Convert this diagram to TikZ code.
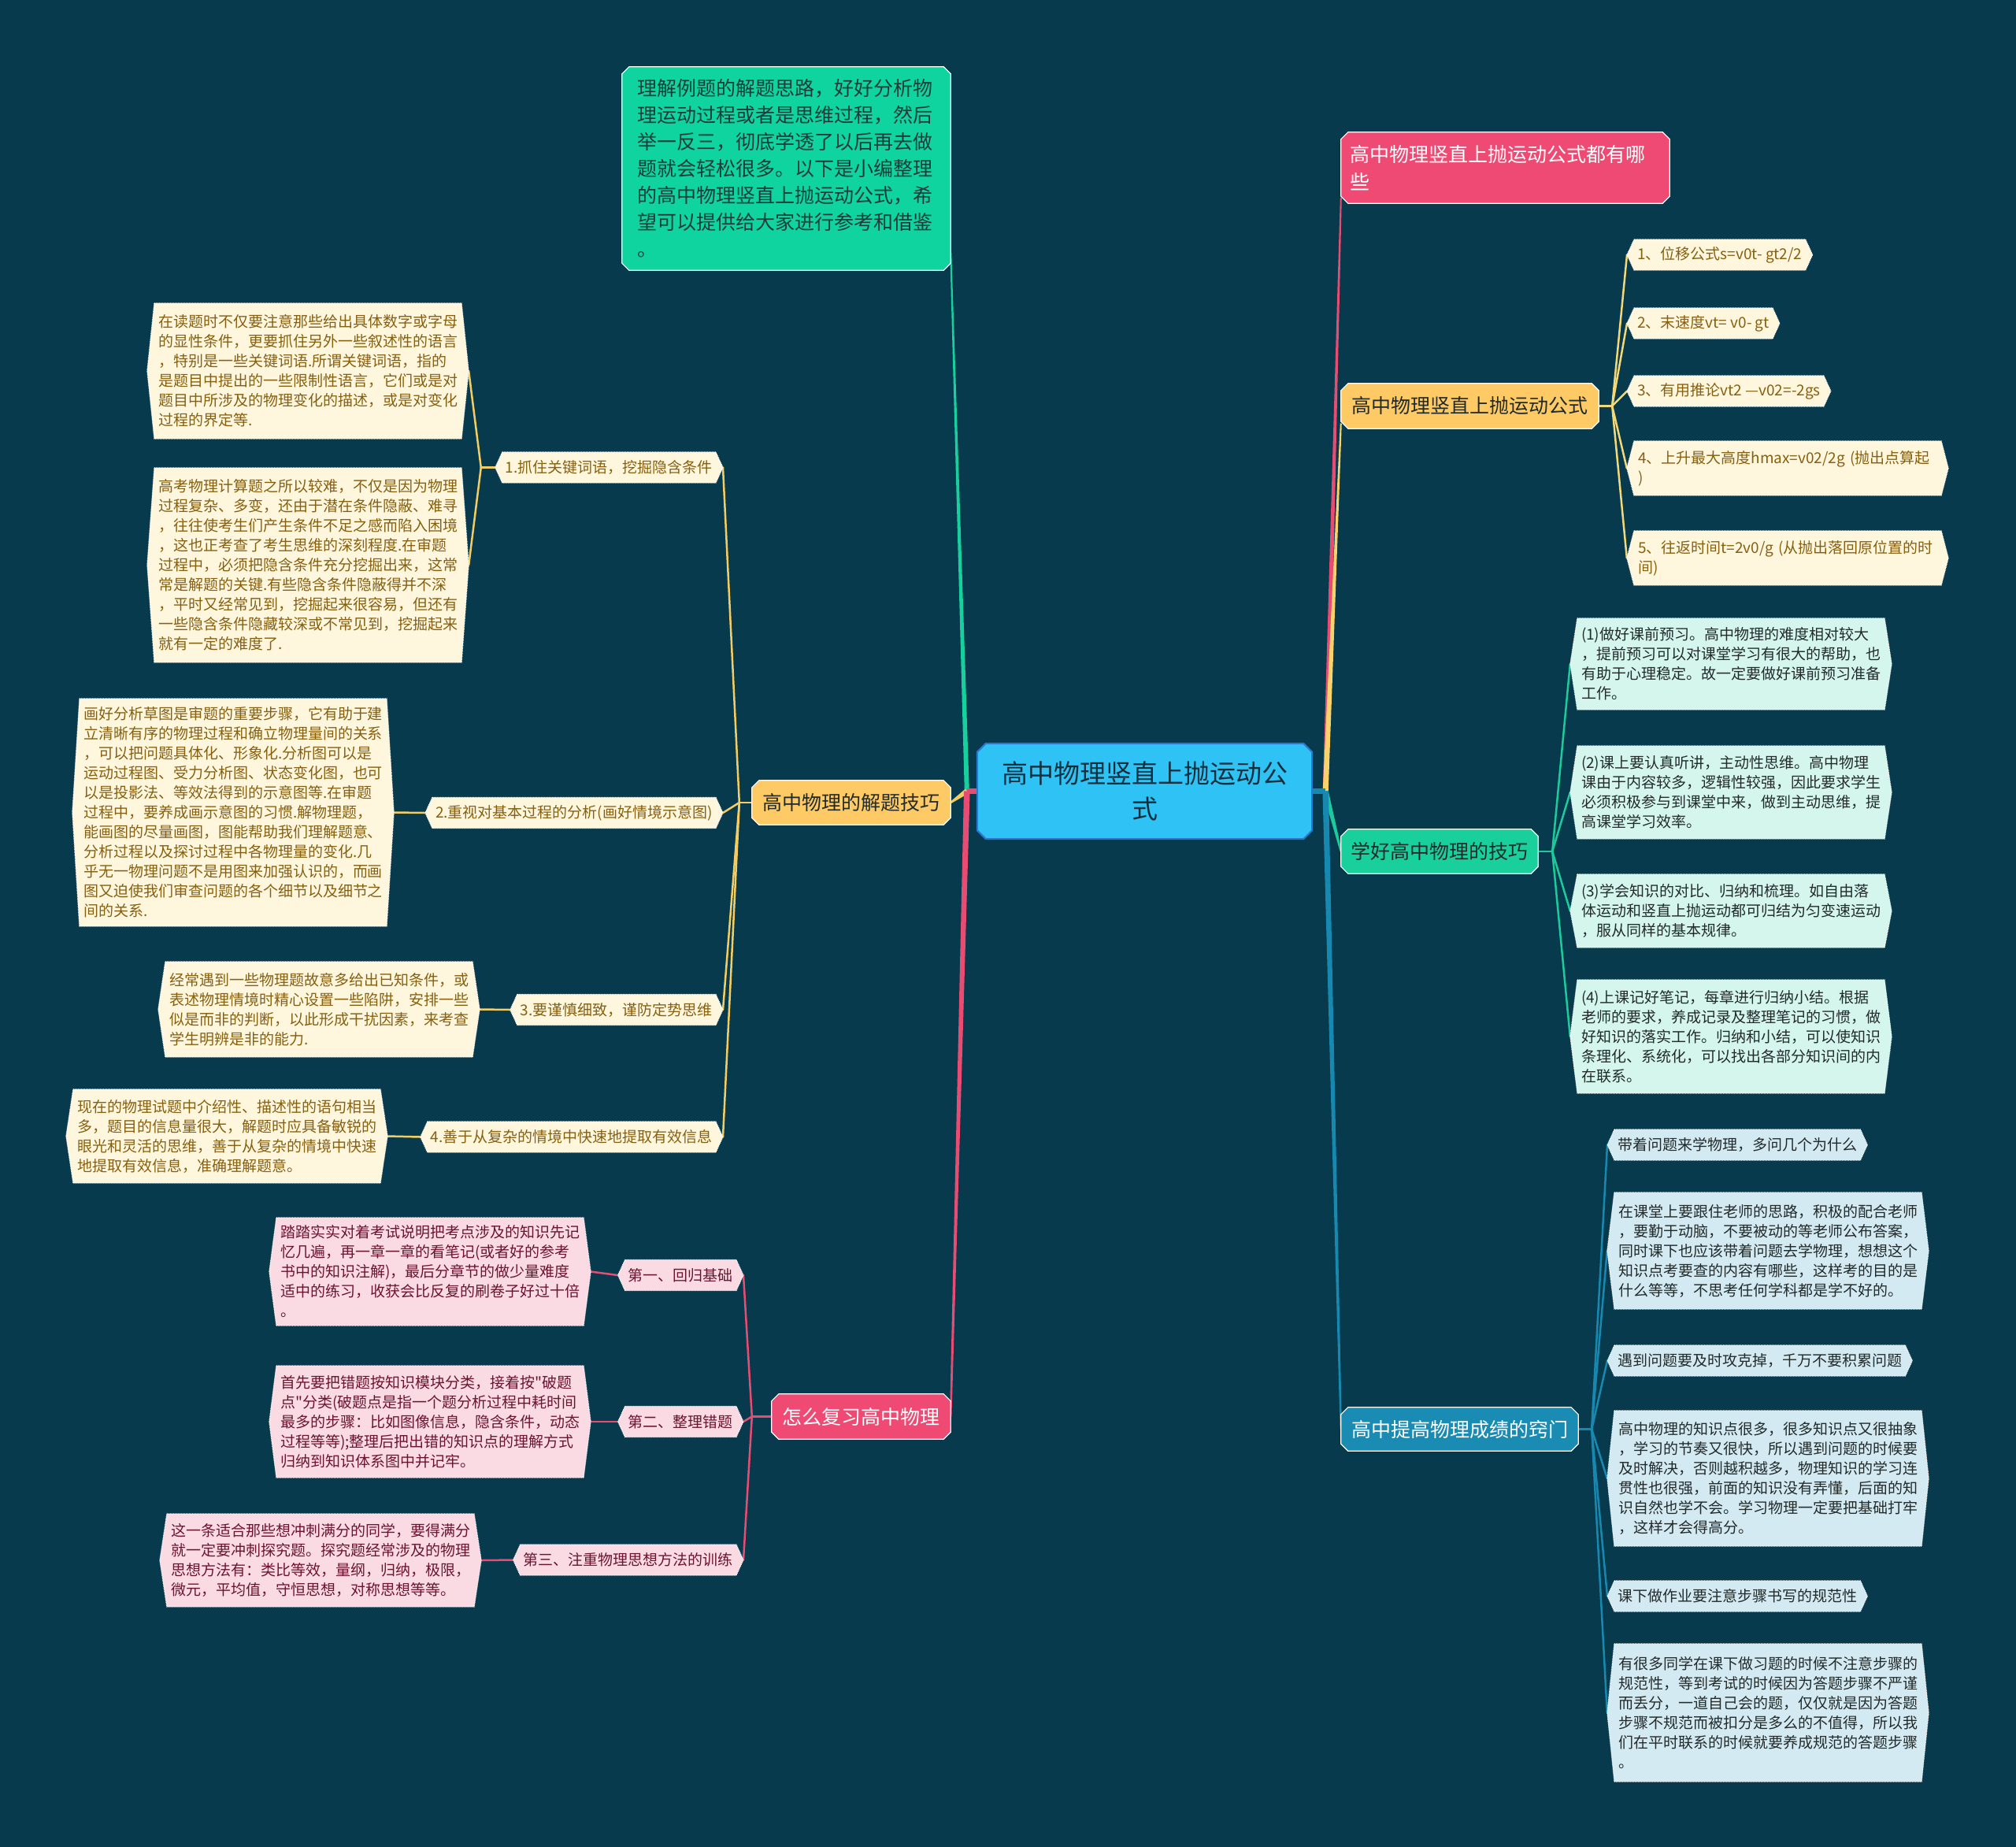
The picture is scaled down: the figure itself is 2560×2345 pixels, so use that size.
\documentclass[tikz,border=0pt]{standalone}
\usepackage{fontspec}
\setmainfont{Noto Sans CJK SC}[Ligatures=TeXOff]
\usetikzlibrary{calc}
\pgfdeclarelayer{bgl}
\pgfdeclarelayer{conn}
\pgfdeclarelayer{shp}
\pgfsetlayers{bgl,conn,shp,main}
\definecolor{bgc}{HTML}{083A4D}
\definecolor{cRoot}{HTML}{2EC3F4}
\definecolor{cRootB}{HTML}{2B78D0}
\definecolor{cRootT}{HTML}{14303F}
\definecolor{cG0}{HTML}{10D49F}
\definecolor{cG0T}{HTML}{1D3B38}
\definecolor{cPinkB}{HTML}{EE4A73}
\definecolor{cYelB}{HTML}{FDCA66}
\definecolor{cGreenB}{HTML}{19D09C}
\definecolor{cBlueB}{HTML}{1A8BB2}
\definecolor{cDark}{HTML}{222A2A}
\definecolor{cCream}{HTML}{FFF6DE}
\definecolor{cMint}{HTML}{D4F6ED}
\definecolor{cLblue}{HTML}{D4EAF2}
\definecolor{cPinkLeaf}{HTML}{FBDBE3}
\definecolor{cBrown}{HTML}{87600F}
\definecolor{cMaroon}{HTML}{6B1430}
\definecolor{cGreenL}{HTML}{16D19E}
\definecolor{cYelL}{HTML}{F3CC62}
\definecolor{cPinkL}{HTML}{E84C73}
\definecolor{cBlueL}{HTML}{1789B0}
\definecolor{cTeal}{HTML}{1CCB9B}
\definecolor{cYelR}{HTML}{F8D26A}
\definecolor{cYelSub}{HTML}{F2D877}
\newcommand\fsz[2]{\fontsize{#1}{#2}\selectfont}
\newcommand\hexbox[3]{\begin{pgfonlayer}{shp}\path[#2] ([xshift=#3]#1.north west) -- ([xshift=-#3]#1.north east) -- (#1.east) -- ([xshift=-#3]#1.south east) -- ([xshift=#3]#1.south west) -- (#1.west) -- cycle;\end{pgfonlayer}}
\newcommand\chamfbox[3]{\begin{pgfonlayer}{shp}\path[#2] ([xshift=#3]#1.north west) -- ([xshift=-#3]#1.north east) -- ([yshift=-#3]#1.north east) -- ([yshift=#3]#1.south east) -- ([xshift=-#3]#1.south east) -- ([xshift=#3]#1.south west) -- ([yshift=#3]#1.south west) -- ([yshift=-#3]#1.north west) -- cycle;\end{pgfonlayer}}
\newcommand\tapline[5]{\fill[#1] ($(#2)!#4!90:(#3)$) -- ($(#3)!#5!-90:(#2)$) -- ($(#3)!#5!90:(#2)$) -- ($(#2)!#4!-90:(#3)$) -- cycle;}
\tikzset{
  base/.style={inner sep=0pt, align=left, draw=none},
  mainbr/.style={base, font=\fsz{25}{30}, align=center},
  bigleaf/.style={base, font=\fsz{19}{25}, text width=380pt, minimum width=408pt},
  smallleaf/.style={base, font=\fsz{19}{25}, inner xsep=13pt, minimum height=39pt},
  creamS/.style={fill=cCream, draw=white, densely dotted, line width=1pt},
  mintS/.style={fill=cMint, draw=white, densely dotted, line width=1pt},
  lblueS/.style={fill=cLblue, draw=white, densely dotted, line width=1pt},
  pinkS/.style={fill=cPinkLeaf, draw=white, densely dotted, line width=1pt},
  brS/.style={draw=white, line width=1.2pt},
  sub/.style={line width=2.5pt, line cap=round, line join=round},
}
\begin{document}
\begin{tikzpicture}[x=1pt,y=-1pt]
\begin{pgfonlayer}{bgl}
\fill[bgc] (0,0) rectangle (2560,2345);
\end{pgfonlayer}
\useasboundingbox (0,0) rectangle (2560,2345);

% root
\node[base, text=cRootT, font=\fsz{33}{45}, align=center, text width=400pt, minimum width=425pt, minimum height=121pt] (root) at (1453.5,1004.5) {高中物理竖直上抛运动公\\式};
\chamfbox{root}{fill=cRoot, draw=cRootB, line width=2pt}{11pt}

% main branches
\node[base, text=cG0T, font=\fsz{25}{34}, text width=378pt, minimum width=417pt, minimum height=258pt] (G0) at (998.5,214) {理解例题的解题思路，好好分析物\\理运动过程或者是思维过程，然后\\举一反三，彻底学透了以后再去做\\题就会轻松很多。以下是小编整理\\的高中物理竖直上抛运动公式，希\\望可以提供给大家进行参考和借鉴\\。};
\chamfbox{G0}{fill=cG0, brS}{9pt}

\node[base, text=white, font=\fsz{25}{35}, text width=395pt, minimum width=417pt, minimum height=90pt] (Rp) at (1911.5,213) {高中物理竖直上抛运动公式都有哪\\些};
\chamfbox{Rp}{fill=cPinkB, brS}{9pt}

\node[mainbr, text=cDark, minimum width=327pt, minimum height=57pt] (Yf) at (1866.5,515.5) {高中物理竖直上抛运动公式};
\chamfbox{Yf}{fill=cYelB, brS}{9pt}

\node[mainbr, text=cDark, minimum width=250pt, minimum height=56pt] (Gx) at (1828,1081) {学好高中物理的技巧};
\chamfbox{Gx}{fill=cGreenB, brS}{9pt}

\node[mainbr, text=white, minimum width=301pt, minimum height=55pt] (Bq) at (1853.5,1814.5) {高中提高物理成绩的窍门};
\chamfbox{Bq}{fill=cBlueB, brS}{9pt}

\node[mainbr, text=cDark, minimum width=252pt, minimum height=56pt] (Yj) at (1081,1019) {高中物理的解题技巧};
\chamfbox{Yj}{fill=cYelB, brS}{9pt}

\node[mainbr, text=white, minimum width=227pt, minimum height=57pt] (Pf) at (1093.5,1798.5) {怎么复习高中物理};
\chamfbox{Pf}{fill=cPinkB, brS}{9pt}

% formula leaves
\node[smallleaf, text=cBrown, anchor=west] (F1) at (2066,323.5) {1、位移公式s=v0t- gt2/2};
\hexbox{F1}{creamS}{9pt}
\node[smallleaf, text=cBrown, anchor=west] (F2) at (2066,410.5) {2、末速度vt= v0- gt};
\hexbox{F2}{creamS}{9pt}
\node[smallleaf, text=cBrown, anchor=west] (F3) at (2066,496.5) {3、有用推论vt2 —v02=-2gs};
\hexbox{F3}{creamS}{9pt}
\node[bigleaf, text=cBrown, minimum height=69pt] (F4) at (2270,594.5) {4、上升最大高度hmax=v02/2g (抛出点算起\\)};
\hexbox{F4}{creamS}{9pt}
\node[bigleaf, text=cBrown, minimum height=69pt] (F5) at (2270,708.5) {5、往返时间t=2v0/g (从抛出落回原位置的时\\间)};
\hexbox{F5}{creamS}{9pt}

% mint leaves
\node[bigleaf, text=cDark, minimum height=116pt] (M1) at (2198,843) {(1)做好课前预习。高中物理的难度相对较大\\，提前预习可以对课堂学习有很大的帮助，也\\有助于心理稳定。故一定要做好课前预习准备\\工作。};
\hexbox{M1}{mintS}{9pt}
\node[bigleaf, text=cDark, minimum height=118pt] (M2) at (2198,1006) {(2)课上要认真听讲，主动性思维。高中物理\\课由于内容较多，逻辑性较强，因此要求学生\\必须积极参与到课堂中来，做到主动思维，提\\高课堂学习效率。};
\hexbox{M2}{mintS}{9pt}
\node[bigleaf, text=cDark, minimum height=93pt] (M3) at (2198,1156.5) {(3)学会知识的对比、归纳和梳理。如自由落\\体运动和竖直上抛运动都可归结为匀变速运动\\，服从同样的基本规律。};
\hexbox{M3}{mintS}{9pt}
\node[bigleaf, text=cDark, minimum height=144pt] (M4) at (2198,1316) {(4)上课记好笔记，每章进行归纳小结。根据\\老师的要求，养成记录及整理笔记的习惯，做\\好知识的落实工作。归纳和小结，可以使知识\\条理化、系统化，可以找出各部分知识间的内\\在联系。};
\hexbox{M4}{mintS}{9pt}

% light blue leaves
\node[smallleaf, text=cDark, anchor=west] (B1) at (2041,1453.5) {带着问题来学物理，多问几个为什么};
\hexbox{B1}{lblueS}{9pt}
\node[bigleaf, text=cDark, minimum height=148pt] (B2) at (2245,1588) {在课堂上要跟住老师的思路，积极的配合老师\\，要勤于动脑，不要被动的等老师公布答案，\\同时课下也应该带着问题去学物理，想想这个\\知识点考要查的内容有哪些，这样考的目的是\\什么等等，不思考任何学科都是学不好的。};
\hexbox{B2}{lblueS}{9pt}
\node[smallleaf, text=cDark, anchor=west] (B3) at (2041,1727.5) {遇到问题要及时攻克掉，千万不要积累问题};
\hexbox{B3}{lblueS}{9pt}
\node[bigleaf, text=cDark, minimum height=172pt] (B4) at (2245,1877) {高中物理的知识点很多，很多知识点又很抽象\\，学习的节奏又很快，所以遇到问题的时候要\\及时解决，否则越积越多，物理知识的学习连\\贯性也很强，前面的知识没有弄懂，后面的知\\识自然也学不会。学习物理一定要把基础打牢\\，这样才会得高分。};
\hexbox{B4}{lblueS}{9pt}
\node[smallleaf, text=cDark, anchor=west] (B5) at (2041,2026.5) {课下做作业要注意步骤书写的规范性};
\hexbox{B5}{lblueS}{9pt}
\node[bigleaf, text=cDark, minimum height=175pt] (B6) at (2245,2174.5) {有很多同学在课下做习题的时候不注意步骤的\\规范性，等到考试的时候因为答题步骤不严谨\\而丢分，一道自己会的题，仅仅就是因为答题\\步骤不规范而被扣分是多么的不值得，所以我\\们在平时联系的时候就要养成规范的答题步骤\\。};
\hexbox{B6}{lblueS}{9pt}

% left: solving skills
\node[smallleaf, text=cBrown, anchor=east] (C1) at (918,593.5) {1.抓住关键词语，挖掘隐含条件};
\hexbox{C1}{creamS}{9pt}
\node[smallleaf, text=cBrown, anchor=east] (C2) at (918,1032) {2.重视对基本过程的分析(画好情境示意图)};
\hexbox{C2}{creamS}{9pt}
\node[smallleaf, text=cBrown, anchor=east] (C3) at (918,1282) {3.要谨慎细致，谨防定势思维};
\hexbox{C3}{creamS}{9pt}
\node[smallleaf, text=cBrown, anchor=east] (C4) at (918,1443.5) {4.善于从复杂的情境中快速地提取有效信息};
\hexbox{C4}{creamS}{9pt}

\node[bigleaf, text=cBrown, minimum height=172pt] (L1a) at (391,471) {在读题时不仅要注意那些给出具体数字或字母\\的显性条件，更要抓住另外一些叙述性的语言\\，特别是一些关键词语.所谓关键词语，指的\\是题目中提出的一些限制性语言，它们或是对\\题目中所涉及的物理变化的描述，或是对变化\\过程的界定等.};
\hexbox{L1a}{creamS}{9pt}
\node[bigleaf, text=cBrown, minimum height=247pt] (L1b) at (391,717.5) {高考物理计算题之所以较难，不仅是因为物理\\过程复杂、多变，还由于潜在条件隐蔽、难寻\\，往往使考生们产生条件不足之感而陷入困境\\，这也正考查了考生思维的深刻程度.在审题\\过程中，必须把隐含条件充分挖掘出来，这常\\常是解题的关键.有些隐含条件隐蔽得并不深\\，平时又经常见到，挖掘起来很容易，但还有\\一些隐含条件隐藏较深或不常见到，挖掘起来\\就有一定的难度了.};
\hexbox{L1b}{creamS}{9pt}
\node[bigleaf, text=cBrown, minimum height=289pt] (L2a) at (296,1031.5) {画好分析草图是审题的重要步骤，它有助于建\\立清晰有序的物理过程和确立物理量间的关系\\，可以把问题具体化、形象化.分析图可以是\\运动过程图、受力分析图、状态变化图，也可\\以是投影法、等效法得到的示意图等.在审题\\过程中，要养成画示意图的习惯.解物理题，\\能画图的尽量画图，图能帮助我们理解题意、\\分析过程以及探讨过程中各物理量的变化.几\\乎无一物理问题不是用图来加强认识的，而画\\图又迫使我们审查问题的各个细节以及细节之\\间的关系.};
\hexbox{L2a}{creamS}{9pt}
\node[bigleaf, text=cBrown, minimum height=121pt] (L3a) at (405,1281.5) {经常遇到一些物理题故意多给出已知条件，或\\表述物理情境时精心设置一些陷阱，安排一些\\似是而非的判断，以此形成干扰因素，来考查\\学生明辨是非的能力.};
\hexbox{L3a}{creamS}{9pt}
\node[bigleaf, text=cBrown, minimum height=119pt] (L4a) at (288,1442.5) {现在的物理试题中介绍性、描述性的语句相当\\多，题目的信息量很大，解题时应具备敏锐的\\眼光和灵活的思维，善于从复杂的情境中快速\\地提取有效信息，准确理解题意。};
\hexbox{L4a}{creamS}{9pt}

% left: review
\node[smallleaf, text=cMaroon, anchor=east] (D1) at (944,1619) {第一、回归基础};
\hexbox{D1}{pinkS}{9pt}
\node[smallleaf, text=cMaroon, anchor=east] (D2) at (944,1805) {第二、整理错题};
\hexbox{D2}{pinkS}{9pt}
\node[smallleaf, text=cMaroon, anchor=east] (D3) at (944,1980.5) {第三、注重物理思想方法的训练};
\hexbox{D3}{pinkS}{9pt}

\node[bigleaf, text=cMaroon, minimum height=137pt] (Pa) at (546,1614.5) {踏踏实实对着考试说明把考点涉及的知识先记\\忆几遍，再一章一章的看笔记(或者好的参考\\书中的知识注解)，最后分章节的做少量难度\\适中的练习，收获会比反复的刷卷子好过十倍\\。};
\hexbox{Pa}{pinkS}{9pt}
\node[bigleaf, text=cMaroon, minimum height=142pt] (Pb) at (546,1805) {首先要把错题按知识模块分类，接着按"破题\\点"分类(破题点是指一个题分析过程中耗时间\\最多的步骤：比如图像信息，隐含条件，动态\\过程等等);整理后把出错的知识点的理解方式\\归纳到知识体系图中并记牢。};
\hexbox{Pb}{pinkS}{9pt}
\node[bigleaf, text=cMaroon, minimum height=118pt] (Pc) at (407,1981) {这一条适合那些想冲刺满分的同学，要得满分\\就一定要冲刺探究题。探究题经常涉及的物理\\思想方法有：类比等效，量纲，归纳，极限，\\微元，平均值，守恒思想，对称思想等等。};
\hexbox{Pc}{pinkS}{9pt}

% junction coordinates
\coordinate (jl) at ($(root.west)+(-13,0)$);
\coordinate (jr) at ($(root.east)+(17,0)$);
\coordinate (g0end) at ($(G0.east)+(0,106)$);
\coordinate (rpend) at ($(Rp.west)+(0,38)$);
\coordinate (yfend) at ($(Yf.west)+(0,22)$);
\coordinate (jF) at ($(Yf.east)+(17,0)$);
\coordinate (jX) at ($(Gx.east)+(18,0)$);
\coordinate (jQ) at ($(Bq.east)+(17,0)$);
\coordinate (jJ) at ($(Yj.west)+(-16,0)$);
\coordinate (jP) at ($(Pf.west)+(-25,0)$);
\coordinate (jC1) at ($(C1.west)+(-18,0)$);

\begin{pgfonlayer}{conn}
% root to branches
\tapline{cGreenL}{jl}{g0end}{3pt}{1pt}
\tapline{cYelL}{jl}{Yj.east}{3.5pt}{1.2pt}
\tapline{cPinkL}{jl}{Pf.east}{3.8pt}{1.2pt}
\draw[cPinkL, line width=7pt] (root.west) -- (jl);
\tapline{cPinkL}{jr}{rpend}{3.5pt}{1pt}
\tapline{cYelR}{jr}{yfend}{3.5pt}{1pt}
\tapline{cTeal}{jr}{Gx.west}{3.5pt}{1.2pt}
\tapline{cBlueL}{jr}{Bq.west}{3.8pt}{1.2pt}
\draw[cBlueL, line width=7pt] (root.east) -- (jr);
% formula branch
\draw[sub, cYelSub] (Yf.east) -- (jF);
\draw[sub, cYelSub] (jF) -- (F1.west);
\draw[sub, cYelSub] (jF) -- (F2.west);
\draw[sub, cYelSub] (jF) -- (F3.west);
\draw[sub, cYelSub] (jF) -- (F4.west);
\draw[sub, cYelSub] (jF) -- (F5.west);
% learning skills
\draw[sub, cTeal] (Gx.east) -- (jX);
\draw[sub, cTeal] (jX) -- (M1.west);
\draw[sub, cTeal] (jX) -- (M2.west);
\draw[sub, cTeal] (jX) -- (M3.west);
\draw[sub, cTeal] (jX) -- (M4.west);
% tips
\draw[sub, cBlueL] (Bq.east) -- (jQ);
\draw[sub, cBlueL] (jQ) -- (B1.west);
\draw[sub, cBlueL] (jQ) -- (B2.west);
\draw[sub, cBlueL] (jQ) -- (B3.west);
\draw[sub, cBlueL] (jQ) -- (B4.west);
\draw[sub, cBlueL] (jQ) -- (B5.west);
\draw[sub, cBlueL] (jQ) -- (B6.west);
% solving skills
\draw[sub, cYelL] (Yj.west) -- (jJ);
\draw[sub, cYelL] (jJ) -- (C1.east);
\draw[sub, cYelL] (jJ) -- (C2.east);
\draw[sub, cYelL] (jJ) -- (C3.east);
\draw[sub, cYelL] (jJ) -- (C4.east);
\draw[sub, cYelL] (C1.west) -- (jC1);
\draw[sub, cYelL] (jC1) -- (L1a.east);
\draw[sub, cYelL] (jC1) -- (L1b.east);
\draw[sub, cYelL] (C2.west) -- (L2a.east);
\draw[sub, cYelL] (C3.west) -- (L3a.east);
\draw[sub, cYelL] (C4.west) -- (L4a.east);
% review
\draw[sub, cPinkL] (Pf.west) -- (jP);
\draw[sub, cPinkL] (jP) -- (D1.east);
\draw[sub, cPinkL] (jP) -- (D2.east);
\draw[sub, cPinkL] (jP) -- (D3.east);
\draw[sub, cPinkL] (D1.west) -- (Pa.east);
\draw[sub, cPinkL] (D2.west) -- (Pb.east);
\draw[sub, cPinkL] (D3.west) -- (Pc.east);
\end{pgfonlayer}
\end{tikzpicture}
\end{document}
